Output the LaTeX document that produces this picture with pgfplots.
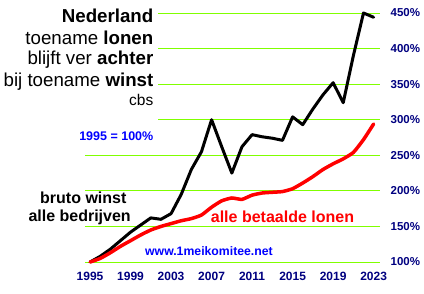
\documentclass[border=0pt]{standalone}
\usepackage{pgfplots}
\pgfplotsset{compat=1.18}
\usepackage{fontspec}
\setmainfont{Liberation Sans}
\definecolor{gridgreen}{RGB}{128,255,0}
\definecolor{ticknavy}{RGB}{0,0,128}
\definecolor{lblue}{RGB}{0,0,255}
\pgfplotstableread{
year val
1995 100
1996 108
1997 118
1998 130
1999 142
2000 152
2001 162
2002 160
2003 168
2004 195
2005 230
2006 255
2007 300
2008 262
2009 225
2010 262
2011 279
2012 276
2013 274
2014 271
2015 304
2016 293
2017 315
2018 335
2019 352
2020 324
2021 390
2022 450
2023 444
}\winst
\pgfplotstableread{
year val
1995 100
1996 105
1997 113
1998 122
1999 130
2000 138
2001 145
2002 150
2003 154
2004 158
2005 161
2006 166
2007 177
2008 186
2009 190
2010 188
2011 194
2012 197
2013 198
2014 199
2015 203
2016 211
2017 220
2018 230
2019 238
2020 245
2021 254
2022 272
2023 294
}\lonen
\begin{document}
\begin{tikzpicture}[x=1pt,y=1pt]
\useasboundingbox (0,0) rectangle (424,293);
\begin{axis}[
  at={(85pt,31pt)}, anchor=south west,
  scale only axis, width=295pt, height=249pt,
  xmin=1994.5, xmax=2023.63, ymin=100, ymax=450,
  axis line style={draw=none}, clip=false,
  ymajorgrids, grid style={gridgreen, line width=1pt},
  xtick={1995,1999,...,2023},
  ytick={100,150,...,450},
  /pgf/number format/1000 sep={},
  /pgf/number format/assume math mode=true,
  major tick length=0pt,
  xticklabel style={font=\fontsize{12}{12}\selectfont\bfseries, text=ticknavy, anchor=north, inner sep=0pt, yshift=-10pt},
  yticklabel pos=right,
  yticklabel={\pgfmathprintnumber{\tick}\%},
  yticklabel style={font=\fontsize{11.5}{12}\selectfont\bfseries, text=ticknavy, anchor=west, inner sep=0pt, xshift=10.5pt},
]
\addplot[black, line width=3pt, line join=round, line cap=round] table[x=year,y=val]{\winst};
\addplot[red, line width=3.5pt, line join=round, line cap=round, smooth, tension=0.3] table[x=year,y=val]{\lonen};
\end{axis}
\fill[white] (0,148) rectangle (157.5,293);
\begin{scope}[every node/.style={inner sep=0pt, anchor=base east}]
\node[font=\fontsize{18.7}{20}\selectfont\bfseries] at (153.5,270.3) {Nederland};
\node[font=\fontsize{18.7}{20}\selectfont] at (153.5,249) {toename \textbf{lonen}};
\node[font=\fontsize{18.7}{20}\selectfont] at (153.5,229) {blijft ver \textbf{achter}};
\node[font=\fontsize{18.7}{20}\selectfont] at (153.5,207) {bij toename \textbf{winst}};
\node[font=\fontsize{15.5}{16}\selectfont] at (153.5,188) {cbs};
\node[font=\fontsize{12.5}{13}\selectfont\bfseries, text=lblue] at (153.5,153) {1995 = 100\%};
\end{scope}
\begin{scope}[every node/.style={inner sep=0pt, anchor=base west}]
\node[font=\fontsize{16}{17}\selectfont\bfseries] at (40,89.7) {bruto winst};
\node[font=\fontsize{16}{17}\selectfont\bfseries] at (28.3,71.3) {alle bedrijven};
\node[font=\fontsize{16}{17}\selectfont\bfseries, text=red] at (210.7,70.3) {alle betaalde lonen};
\node[font=\fontsize{12.25}{13}\selectfont\bfseries, text=lblue] at (145,38) {www.1meikomitee.net};
\end{scope}
\end{tikzpicture}
\end{document}
